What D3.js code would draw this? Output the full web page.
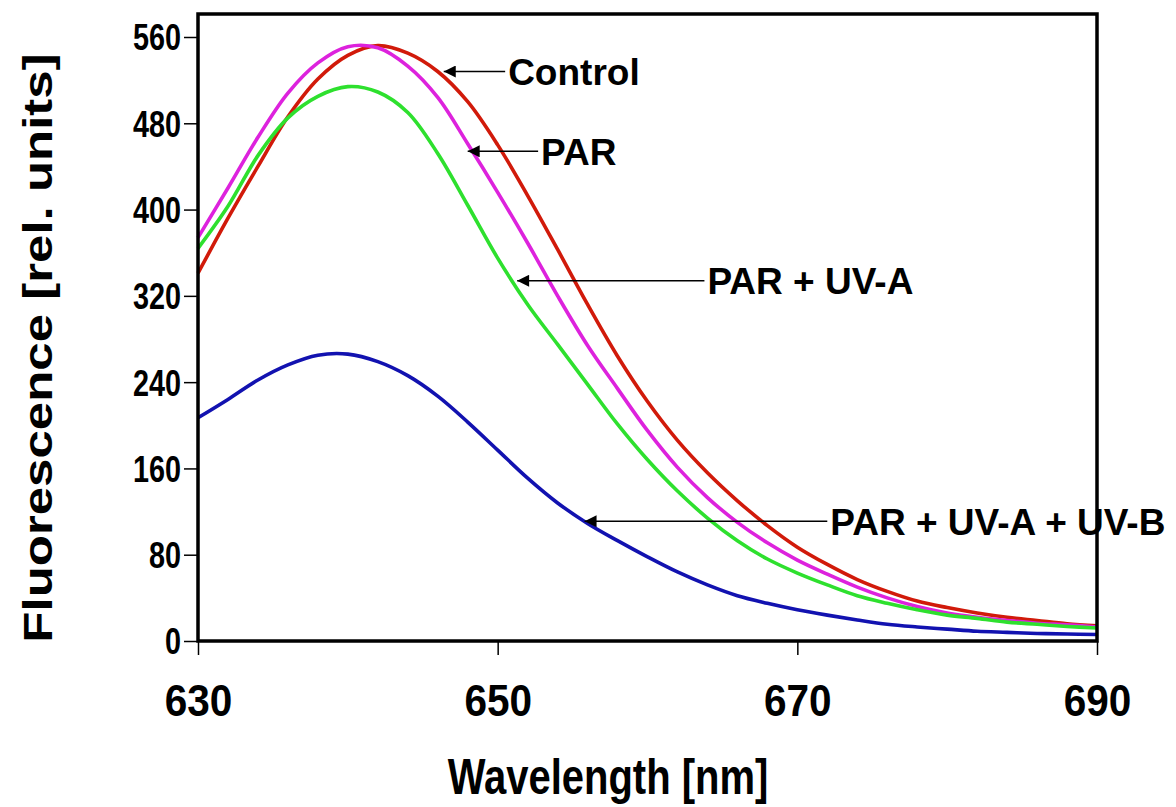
<!DOCTYPE html>
<html>
<head>
<meta charset="utf-8">
<script src="https://cdn.jsdelivr.net/npm/d3@7"></script>
<style>
  body { margin: 0; background: #fff; }
  text { font-family: "Liberation Sans", Arial, sans-serif; font-weight: bold; fill: #000; }
</style>
</head>
<body>
<script>
// wavelength [nm], every 2 nm
const wavelength = [630, 632, 634, 636, 638, 640, 642, 644, 646, 648, 650, 652, 654, 656, 658, 660,
                    662, 664, 666, 668, 670, 672, 674, 676, 678, 680, 682, 684, 686, 688, 690];

const control   = [341, 392, 440, 486, 521, 543, 552, 545, 528, 500, 460, 413, 363, 312, 264, 222,
                   186, 156, 130, 107, 87, 71, 57, 46, 37, 31, 26, 22, 19, 16, 14];
const par       = [374, 420, 467, 508, 536, 551, 550, 533, 504, 461, 416, 369, 320, 274, 234, 195,
                   161, 133, 110, 91, 75, 62, 50, 40, 32, 26, 22, 19, 16.5, 15, 13];
const parUva    = [364, 403, 450, 485, 505, 514, 509, 490, 452, 404, 355, 312, 275, 238, 201, 168,
                   139, 114, 93, 76, 63, 52, 42, 35, 29, 24, 21, 17.5, 15.5, 13.5, 12];
const parUvaUvb = [207, 224, 242, 256, 265, 266, 259, 246, 227, 203, 177, 151, 128, 109, 93, 78,
                   64, 52, 42, 35, 29, 24, 19.5, 15.5, 13, 11, 9, 8, 7, 6.5, 6];

const seriesNames = ["Control", "PAR", "PAR + UV-A", "PAR + UV-A + UV-B"];
const seriesColors = ["#d11a0a", "#dd22dd", "#2ee02e", "#1212b0"];

const yTicks = [0, 80, 160, 240, 320, 400, 480, 560];
const xTicks = [630, 650, 670, 690];

// label anchors: arrow tip [nm, value] and label start [nm]
const arrowTip = [[646.4, 528], [648.0, 454], [651.3, 334], [655.8, 111]];
const labelAt  = [650.7, 652.9, 664.0, 672.2];

const w = 1176, h = 807;
const margin = {top: 14, right: 79, bottom: 166, left: 198};

// the original figure is squeezed sideways, so squeeze the text the same way
function squeeze(sel, f) {
  sel.each(function() {
    const len = this.getComputedTextLength();
    d3.select(this)
      .attr("textLength", len * f)
      .attr("lengthAdjust", "spacingAndGlyphs");
  });
}

const svg = d3.select("body")
  .append("svg")
  .attr("width", w)
  .attr("height", h);

const x = d3.scaleLinear()
  .domain([630, 690])
  .range([margin.left, w - margin.right]);

const y = d3.scaleLinear()
  .domain([0, 560])
  .range([h - margin.bottom, h - margin.bottom - 604]);

const defs = svg.append("defs");
defs.append("marker")
  .attr("id", "head")
  .attr("viewBox", "0 0 10 10")
  .attr("refX", 10)
  .attr("refY", 5)
  .attr("markerUnits", "userSpaceOnUse")
  .attr("markerWidth", 16)
  .attr("markerHeight", 12)
  .attr("orient", "auto")
  .append("path")
  .attr("d", "M10,5 L0,0 L0,10 Z")
  .attr("fill", "#000");

const allSeries = [control, par, parUva, parUvaUvb];

const line = d3.line()
  .x((d, i) => x(wavelength[i]))
  .y(d => y(d))
  .curve(d3.curveCatmullRom);

svg.append("g")
  .selectAll("path")
  .data(allSeries)
  .enter().append("path")
  .attr("d", line)
  .attr("fill", "none")
  .attr("stroke", (d, i) => seriesColors[i])
  .attr("stroke-width", 3.6);

// axes
const yAxis = d3.axisLeft(y)
  .tickValues(yTicks)
  .tickSize(14)
  .tickPadding(3);

const xAxis = d3.axisBottom(x)
  .tickValues(xTicks)
  .tickSize(14);

const gy = svg.append("g")
  .attr("transform", `translate(${margin.left},0)`)
  .call(yAxis);

const gx = svg.append("g")
  .attr("transform", `translate(0,${h - margin.bottom})`)
  .call(xAxis);

[gx, gy].forEach(g => {
  g.select(".domain").remove();
  g.selectAll(".tick line").attr("stroke", "#000").attr("stroke-width", 1.5);
  g.selectAll(".tick text").attr("font-family", null).attr("fill", "#000");
});
gy.selectAll(".tick text")
  .style("font-size", "36px")
  .attr("dy", "0.36em")
  .call(squeeze, 0.8);
gx.selectAll(".tick text")
  .style("font-size", "45px")
  .attr("y", 75)
  .attr("dy", 0)
  .call(squeeze, 0.9);

// frame
svg.append("rect")
  .attr("x", margin.left)
  .attr("y", y(560) - 23)
  .attr("width", x(690) - x(630))
  .attr("height", y(0) - y(560) + 23)
  .attr("fill", "none")
  .attr("stroke", "#000")
  .attr("stroke-width", 3.5);

// labels with arrows
const notes = svg.append("g");
seriesNames.forEach((name, i) => {
  const tx = x(arrowTip[i][0]), ty = y(arrowTip[i][1]);
  const lx = x(labelAt[i]);
  notes.append("line")
    .attr("x1", lx - 3)
    .attr("y1", ty)
    .attr("x2", tx)
    .attr("y2", ty)
    .attr("stroke", "#000")
    .attr("stroke-width", 1.5)
    .attr("marker-end", "url(#head)");
  notes.append("text")
    .attr("x", lx)
    .attr("y", ty)
    .attr("dy", "0.36em")
    .style("font-size", "37px")
    .text(name);
});

svg.append("text")
  .attr("x", 608)
  .attr("y", 794)
  .attr("text-anchor", "middle")
  .style("font-size", "50px")
  .text("Wavelength [nm]")
  .call(squeeze, 0.8);

svg.append("text")
  .attr("transform", `translate(52,348) rotate(-90) scale(1,0.8)`)
  .attr("text-anchor", "middle")
  .style("font-size", "51px")
  .text("Fluorescence [rel. units]");
</script>
</body>
</html>
